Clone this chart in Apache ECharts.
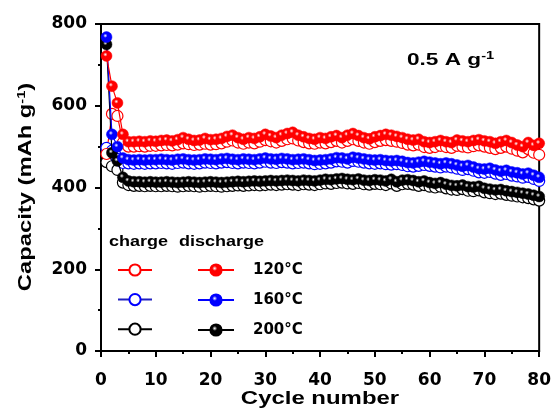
<!DOCTYPE html>
<html>
<head>
<meta charset="utf-8">
<script src="https://cdn.jsdelivr.net/npm/echarts@6/dist/echarts.min.js"></script>
<style>html,body{margin:0;padding:0;background:#fff;}#c{width:554px;height:412px;}</style>
</head>
<body>
<div id="c"></div>
<script>
var xTicks = [0, 10, 20, 30, 40, 50, 60, 70, 80];
var yTicks = [0, 200, 400, 600, 800];
var legendLabels = ['120°C', '160°C', '200°C'];

var red_discharge = [
722,648,607,530,512,512,513,512,514,513,
515,516,514,517,522,518,515,516,520,517,
518,520,525,528,522,518,522,520,524,530,
526,522,528,532,535,528,524,520,518,522,
520,524,527,522,528,532,527,522,519,524,
527,530,528,525,522,518,516,518,512,510,
512,515,512,510,516,514,512,515,517,514,
512,508,512,515,510,504,500,510,503,508];
var red_charge = [
482,580,575,510,500,500,501,500,502,502,
503,504,503,505,508,506,504,505,507,505,
506,508,512,515,510,507,510,508,512,516,
513,510,514,518,520,515,511,508,507,510,
508,511,514,510,514,518,514,510,507,511,
514,516,514,512,509,505,503,505,499,497,
499,502,499,497,502,500,498,501,503,500,
497,494,497,500,495,490,486,494,485,480];
var blue_discharge = [
768,530,500,472,468,467,468,467,468,468,
469,468,467,469,470,468,467,468,470,469,
468,470,471,469,468,470,469,468,470,472,
470,469,471,470,468,469,470,468,466,467,
468,470,473,472,470,474,472,470,468,467,
468,466,465,466,464,461,460,462,464,462,
460,458,460,458,455,452,454,450,446,445,
447,443,440,442,438,436,433,435,430,425];
var blue_charge = [
497,490,470,460,459,458,459,458,459,459,
460,459,458,460,461,459,458,459,461,460,
459,461,462,460,459,461,460,459,461,463,
461,460,462,461,459,460,461,459,457,458,
459,461,464,463,461,465,463,461,459,458,
459,457,456,457,455,452,451,453,455,453,
451,449,451,449,446,443,445,441,437,436,
438,434,431,433,429,427,424,426,421,416];
var black_discharge = [
750,485,465,425,416,414,414,413,414,413,
413,414,413,412,413,414,413,412,413,414,
413,412,413,414,415,414,415,416,415,416,
417,416,417,418,417,416,418,417,416,418,
420,419,421,422,420,419,421,418,417,419,
418,416,420,414,418,419,417,414,416,412,
410,412,408,405,404,406,402,401,403,398,
396,394,395,392,390,388,386,384,381,378];
var black_charge = [
462,452,443,412,406,404,404,403,404,403,
403,404,403,402,403,404,403,402,403,404,
403,402,403,404,405,404,405,406,405,406,
407,406,407,408,407,406,408,407,406,408,
410,409,411,412,410,409,411,408,407,409,
408,406,410,404,408,409,407,404,406,402,
400,402,398,395,394,396,392,391,393,388,
386,384,385,382,380,378,376,374,371,368];

function pts(arr){ return arr.map(function(v,i){ return [i+1, v]; }); }
function ball(c){
  return {type:'radial', x:0.4, y:0.38, r:0.62,
    colorStops:[{offset:0,color:'#ffffff'},{offset:0.3,color:c},{offset:1,color:c}]};
}
var FONT = 'Arial, "Liberation Sans", sans-serif';
var WIDE = '"DejaVu Sans", Verdana, sans-serif';
var SYM = 11;

function chargeSeries(name, data, col, lineCol){
  return {name:name, type:'line', data:pts(data), symbol:'circle', symbolSize:SYM,
    lineStyle:{color:lineCol, width:1.2}, itemStyle:{color:'#fff', borderColor:col, borderWidth:1.2},
    emphasis:{disabled:true}, animation:false, z:2};
}
function dischargeSeries(name, data, col, lineCol){
  return {name:name, type:'line', data:pts(data), symbol:'circle', symbolSize:SYM,
    lineStyle:{color:lineCol, width:1.2}, itemStyle:{color:ball(col), borderColor:col, borderWidth:0.5},
    emphasis:{disabled:true}, animation:false, z:3};
}

var chart = echarts.init(document.getElementById('c'), null, {renderer:'canvas'});
var axisCommon = {
  axisLine:{show:true, onZero:false, lineStyle:{color:'#000', width:2}},
  axisTick:{show:true, inside:false, length:6, lineStyle:{color:'#000', width:2}},
  minorTick:{show:true, splitNumber:2, length:3, lineStyle:{color:'#000', width:2}},
  splitLine:{show:false}
};
chart.setOption({
  animation:false,
  backgroundColor:'#fff',
  grid:{left:101, right:14, top:24, bottom:61, show:true, borderColor:'#000', borderWidth:2},
  xAxis:Object.assign({type:'value', min:xTicks[0], max:xTicks[xTicks.length-1], interval:10,
    axisLabel:{margin:21, fontFamily:WIDE, fontWeight:'bold', fontSize:17, color:'#000'}}, axisCommon),
  yAxis:Object.assign({type:'value', min:yTicks[0], max:yTicks[yTicks.length-1], interval:200,
    axisLabel:{margin:14, fontFamily:WIDE, fontWeight:'bold', fontSize:17, color:'#000'}}, axisCommon),
  legend:[
    {orient:'vertical', left:112, top:258, itemWidth:34, itemHeight:14, itemGap:16,
     data:['c120','c160','c200'], formatter:function(){return '';}, selectedMode:false,
     lineStyle:{width:2}, textStyle:{fontSize:12}},
    {orient:'vertical', left:192, top:257, itemWidth:36, itemHeight:14, itemGap:14,
     data:['d120','d160','d200'], selectedMode:false, lineStyle:{width:2},
     formatter:function(n){ return legendLabels[['d120','d160','d200'].indexOf(n)]; },
     textStyle:{fontFamily:WIDE, fontWeight:'bold', fontSize:15, lineHeight:16, color:'#000', padding:[0,0,0,14]}}
  ],
  graphic:[
    {type:'text', x:109, y:242, scaleX:1.2, style:{text:'charge', font:'bold 15px ' + FONT, fill:'#000', align:'left', verticalAlign:'middle'}},
    {type:'text', x:179, y:242, scaleX:1.2, style:{text:'discharge', font:'bold 15px ' + FONT, fill:'#000', align:'left', verticalAlign:'middle'}},
    {type:'text', x:407, y:60, scaleX:1.33, style:{text:'0.5 A g{s|-1}', font:'bold 17px ' + FONT, fill:'#000', align:'left', verticalAlign:'middle',
      rich:{s:{font:'bold 11px ' + FONT, fill:'#000', verticalAlign:'top', padding:[0,0,9,0]}}}},
    {type:'text', x:320, y:399, scaleX:1.33, style:{text:'Cycle number', font:'bold 18px ' + FONT, fill:'#000', align:'center', verticalAlign:'middle'}},
    {type:'text', x:26, y:187, rotation:Math.PI/2, scaleX:1.32, style:{text:'Capacity (mAh g{s|-1})', font:'bold 18px ' + FONT, fill:'#000', align:'center', verticalAlign:'middle',
      rich:{s:{font:'bold 11px ' + FONT, fill:'#000', verticalAlign:'top', padding:[0,0,9,0]}}}}
  ],
  series:[
    chargeSeries('c200', black_charge, '#000', '#000'),
    chargeSeries('c160', blue_charge, '#0000ff', '#2020c0'),
    chargeSeries('c120', red_charge, '#ff0000', '#ff0000'),
    dischargeSeries('d200', black_discharge, '#000000', '#000'),
    dischargeSeries('d160', blue_discharge, '#0000ff', '#0000ff'),
    dischargeSeries('d120', red_discharge, '#ff0000', '#ff0000')
  ]
});
</script>
</body>
</html>
